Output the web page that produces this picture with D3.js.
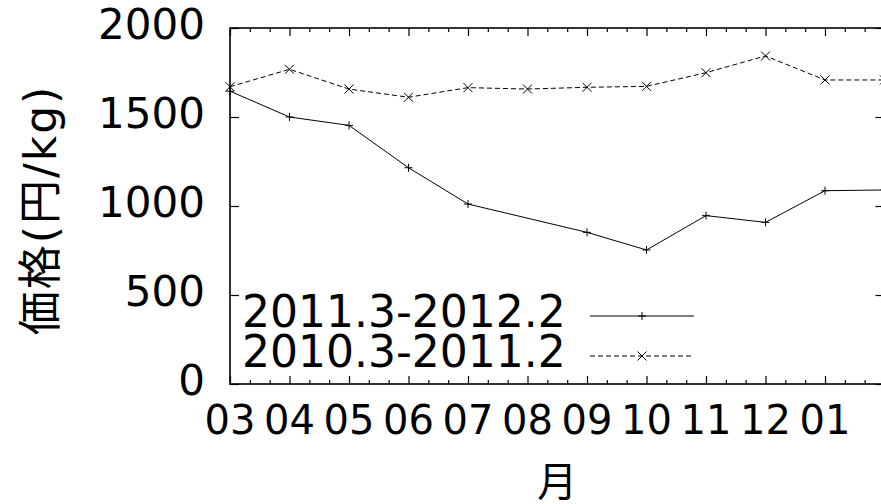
<!DOCTYPE html>
<html>
<head>
<meta charset="utf-8">
<script src="https://cdn.jsdelivr.net/npm/d3@7"></script>
<style>
  body { margin: 0; background: #fff; }
  svg { display: block; }
  text { font-family: "DejaVu Sans", "Noto Sans CJK JP", sans-serif; fill: #000; }
</style>
</head>
<body>
<svg width="881" height="504"></svg>
<script>

  // DATA

  var months = ["03", "04", "05", "06", "07", "08", "09", "10", "11", "12", "01", "02"];
  var tickLabels = ["03", "04", "05", "06", "07", "08", "09", "10", "11", "12", "01"];
  var yTicks = [0, 500, 1000, 1500, 2000];
  var seriesNames = ["2011.3-2012.2", "2010.3-2011.2"];
  var price2011 = [1645, 1500, 1453, 1215, 1011, null, 852, 753, 946, 908, 1086, 1090];
  var price2010 = [1670, 1768, 1657, 1611, 1665, 1657, 1667, 1672, 1749, 1843, 1708, 1708];

  // SETUP

  var svg = d3.select("svg"),
    plotLeft = 230, plotRight = 884.5, plotTop = 28, plotBottom = 384;

  var x = d3.scaleLinear().domain([0, months.length - 1]).range([plotLeft, plotRight]),
    y = d3.scaleLinear().domain([0, 2000]).range([plotBottom, plotTop]);

  var minor = [];
  for (var i = 0; i < months.length - 1; i++) {
    minor.push(i + 1 / 3, i + 2 / 3);
  }
  var major = d3.range(months.length);

  // AXES (ticks only, gnuplot style: ticks point inward on all four sides)

  function ticks(axis) {
    return function (g) {
      g.call(axis);
      g.select(".domain").remove();
      g.selectAll("line").attr("stroke", "#000").attr("stroke-width", 1.2);
    };
  }

  svg.append("g").attr("transform", "translate(0," + plotBottom + ")")
    .call(ticks(d3.axisBottom(x).tickValues(major).tickSize(-8).tickFormat("")));
  svg.append("g").attr("transform", "translate(0," + plotBottom + ")")
    .call(ticks(d3.axisBottom(x).tickValues(minor).tickSize(-4).tickFormat("")));
  svg.append("g").attr("transform", "translate(0," + plotTop + ")")
    .call(ticks(d3.axisTop(x).tickValues(major).tickSize(-8).tickFormat("")));
  svg.append("g").attr("transform", "translate(0," + plotTop + ")")
    .call(ticks(d3.axisTop(x).tickValues(minor).tickSize(-4).tickFormat("")));
  svg.append("g").attr("transform", "translate(" + plotLeft + ",0)")
    .call(ticks(d3.axisLeft(y).tickValues(yTicks).tickSize(-9).tickFormat("")));
  svg.append("g").attr("transform", "translate(" + plotRight + ",0)")
    .call(ticks(d3.axisRight(y).tickValues(yTicks).tickSize(-9).tickFormat("")));

  // border
  svg.append("rect")
    .attr("x", plotLeft).attr("y", plotTop)
    .attr("width", plotRight - plotLeft).attr("height", plotBottom - plotTop)
    .attr("fill", "none").attr("stroke", "#000").attr("stroke-width", 1.6);

  // tick labels
  svg.append("g").selectAll("text")
    .data(yTicks)
    .enter().append("text")
    .attr("x", 205)
    .attr("y", function (d) { return y(d) + 11; })
    .attr("text-anchor", "end")
    .attr("font-size", 42)
    .text(function (d) { return d; });

  svg.append("g").selectAll("text")
    .data(tickLabels)
    .enter().append("text")
    .attr("x", function (d, i) { return x(i); })
    .attr("y", 434)
    .attr("text-anchor", "middle")
    .attr("font-size", 40)
    .text(function (d) { return d; });

  // axis titles
  svg.append("text")
    .attr("transform", "translate(40,210) rotate(-90)")
    .attr("text-anchor", "middle")
    .attr("dominant-baseline", "central")
    .attr("font-size", 44)
    .attr("letter-spacing", 2)
    .text("価格(円/kg)");

  svg.append("text")
    .attr("x", x(5.5))
    .attr("y", 496)
    .attr("text-anchor", "middle")
    .attr("font-size", 40)
    .text("月");

  // SERIES

  function pts(values) {
    return values.map(function (v, i) { return { i: i, v: v }; })
      .filter(function (d) { return d.v != null; });
  }

  var line = d3.line()
    .x(function (d) { return x(d.i); })
    .y(function (d) { return y(d.v); });

  function plus(g, cx, cy) {
    g.append("path")
      .attr("d", "M" + (cx - 4) + "," + cy + "H" + (cx + 4) + "M" + cx + "," + (cy - 4) + "V" + (cy + 4))
      .attr("stroke", "#000").attr("stroke-width", 1);
  }
  function cross(g, cx, cy) {
    g.append("path")
      .attr("d", "M" + (cx - 4.5) + "," + (cy - 4.5) + "L" + (cx + 4.5) + "," + (cy + 4.5) +
        "M" + (cx - 4.5) + "," + (cy + 4.5) + "L" + (cx + 4.5) + "," + (cy - 4.5))
      .attr("stroke", "#000").attr("stroke-width", 1);
  }

  var series = [
    { name: seriesNames[0], data: pts(price2011), dash: null, mark: plus },
    { name: seriesNames[1], data: pts(price2010), dash: "5,3", mark: cross }
  ];

  var plot = svg.append("g");

  series.forEach(function (s, k) {
    plot.append("path")
      .datum(s.data)
      .attr("d", line)
      .attr("fill", "none")
      .attr("stroke", "#000")
      .attr("stroke-width", 1)
      .attr("stroke-dasharray", s.dash);
    s.data.forEach(function (d) { s.mark(plot, x(d.i), y(d.v)); });

    // legend
    var ly = 316 + k * 40;
    svg.append("text")
      .attr("x", 242)
      .attr("y", ly + 11)
      .attr("font-size", 44)
      .text(s.name);
    svg.append("line")
      .attr("x1", 590).attr("x2", 694)
      .attr("y1", ly).attr("y2", ly)
      .attr("stroke", "#000").attr("stroke-width", 1)
      .attr("stroke-dasharray", s.dash);
    s.mark(svg, 642, ly);
  });

</script>
</body>
</html>
